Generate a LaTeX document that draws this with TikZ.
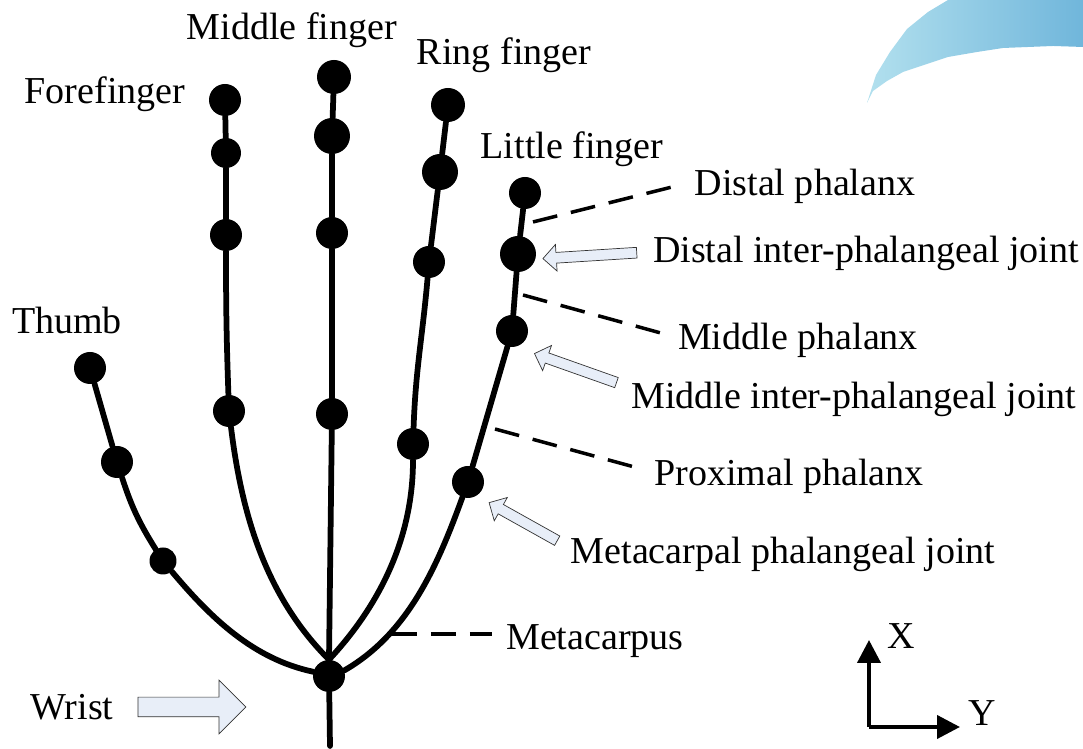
\documentclass[tikz,border=0pt]{standalone}
\usepackage{fontspec}
\setmainfont{Liberation Serif}
\usepackage{xcolor}
\usepackage{tikz}
\usetikzlibrary{shapes.arrows, arrows.meta, positioning}
\definecolor{blobleft}{RGB}{178,224,238}
\definecolor{blobright}{RGB}{112,182,219}
\definecolor{arrowfill}{RGB}{232,238,248}

\begin{document}
\begin{tikzpicture}[
  x=0.02cm, y=0.02cm,
  joint/.style={circle, fill=black, inner sep=0pt, minimum size=0.64cm},
  bigjoint/.style={joint, minimum size=0.72cm},
  smalljoint/.style={joint, minimum size=0.54cm},
  bone/.style={line width=0.115cm, color=black, line cap=round},
  dashline/.style={line width=0.07cm, dash pattern=on 0.5cm off 0.28cm},
  axis/.style={line width=0.08cm, -{Triangle[length=0.46cm, width=0.46cm]}},
  txt/.style={font=\fontsize{21.65}{26}\selectfont, inner sep=0pt},
  blockarrow/.style={single arrow, draw=black!80, line width=0.4pt, fill=arrowfill, inner sep=0pt,
                     text height=0.2cm, single arrow head extend=0.16cm},
]
\useasboundingbox (0,0) rectangle (1083,749);

% --- Corner shape ---
\shade[left color=blobleft, right color=blobright]
  (867,646) -- (876,674) -- (890,697) -- (907,720) -- (928,737) -- (948,749)
  -- (1083,749) -- (1083,702) -- (1053,703) -- (1003,701) -- (977,697)
  -- (948,692) -- (903,677) -- (887,668) -- (873,658) -- cycle;

% --- Joints ---
\node[joint] (wrist) at (329,73) {};
\coordinate (stem) at (330,3);

\node[joint] (th1) at (90,381) {};
\node[joint] (th2) at (117,287) {};
\node[smalljoint] (th3) at (163,188) {};

\node[joint] (ff1) at (225,649) {};
\node[smalljoint, minimum size=0.6cm] (ff2) at (226,596) {};
\node[joint] (ff3) at (226,514) {};
\node[joint] (ff4) at (229,338) {};

\node[joint, minimum size=0.68cm] (mf1) at (334,672) {};
\node[bigjoint] (mf2) at (332,613) {};
\node[joint] (mf3) at (332,516) {};
\node[joint] (mf4) at (332,335) {};

\node[joint, minimum size=0.68cm] (rf1) at (448,644) {};
\node[bigjoint] (rf2) at (440,577) {};
\node[joint] (rf3) at (429,487) {};
\node[joint] (rf4) at (413,305) {};

\node[joint] (lf1) at (525,556) {};
\node[bigjoint] (lf2) at (518,495) {};
\node[joint] (lf3) at (512,418) {};
\node[joint] (lf4) at (468,267) {};

% --- Fingers ---
\draw[bone] (wrist) -- (stem);
\draw[bone] (th1) -- (th2);
\draw[bone] (th2) to[out=-72, in=122] (th3);
\draw[bone] (th3) to[out=-50, in=168, looseness=0.9] (wrist.165);

\draw[bone] (ff1) -- (ff2);
\draw[bone] (ff2) -- (ff3);
\draw[bone] (ff3) to[out=-90, in=92] (ff4);
\draw[bone] (ff4) to[out=-83, in=135, looseness=0.9] (wrist.north);

\draw[bone] (mf1) -- (mf2);
\draw[bone] (mf2) -- (mf3);
\draw[bone] (mf3) -- (mf4);
\draw[bone] (mf4) -- (wrist.north);

\draw[bone] (rf1) -- (rf2);
\draw[bone] (rf2) -- (rf3);
\draw[bone] (rf3) to[out=-95, in=88] (rf4);
\draw[bone] (rf4) to[out=-90, in=47, looseness=0.9] (wrist.north);

\draw[bone] (lf1) -- (lf2);
\draw[bone] (lf2) -- (lf3);
\draw[bone] (lf3) -- (lf4);
\draw[bone] (lf4) to[out=-110, in=30, looseness=0.9] (wrist.20);

% --- Labels ---
\node[txt] (middle) at (292,719) {Middle finger};
\node[txt] (ring) at (504,694) {Ring finger};
\node[txt] (fore) at (105,655) {Forefinger};
\node[txt] (little) at (572,600) {Little finger};
\node[txt] (thumb) at (67,428) {Thumb};
\node[txt] (dphal) at (805,563) {Distal phalanx};
\node[txt] (djoint) at (866,496) {Distal inter-phalangeal joint};
\node[txt] (mphal) at (798,409) {Middle phalanx};
\node[txt] (mjoint) at (854,350) {Middle inter-phalangeal joint};
\node[txt] (pphal) at (789,273) {Proximal phalanx};
\node[txt] (mcjoint) at (783,195) {Metacarpal phalangeal joint};
\node[txt] (mcarpus) at (595,108) {Metacarpus};
\node[txt] (wristlab) at (72,42) {Wrist};

% --- Dashed leaders ---
\coordinate (dphalend) at (533,527);
\coordinate (mphalend) at (523,454);
\coordinate (pphalend) at (495,320);
\coordinate (mcarpusend) at (392,115);
\coordinate (dphalfar) at (680,564);
\coordinate (mphalfar) at (668,414);
\coordinate (pphalfar) at (638,281);
\coordinate (mcarpusfar) at (492,115);
\draw[dashline] (dphalend) -- (dphalfar);
\draw[dashline] (mphalend) -- (mphalfar);
\draw[dashline] (pphalend) -- (pphalfar);
\draw[dashline] (mcarpusend) -- (mcarpusfar);

% --- Block arrows ---
\node[blockarrow, minimum height=1.88cm, rotate=183.6] (darrow) at (592.5,493.5) {};
\node[blockarrow, minimum height=1.74cm, rotate=160.5] (marrow) at (578,380) {};
\node[blockarrow, minimum height=1.56cm, rotate=150.8] (mcarrow) at (525.5,226) {};
\node[blockarrow, minimum height=2.16cm, text height=0.38cm, single arrow head extend=0.34cm] (warrow) at (187,42) {};

% --- Axes ---
\coordinate (origin) at (869,22);
\coordinate (xtip) at (869,109);
\coordinate (ytip) at (960,22);
\draw[axis] (origin) -- (xtip);
\draw[axis] (origin) -- (ytip);
\node[txt] (xlab) at (901,113) {X};
\node[txt] (ylab) at (982,36) {Y};

\end{tikzpicture}
\end{document}
